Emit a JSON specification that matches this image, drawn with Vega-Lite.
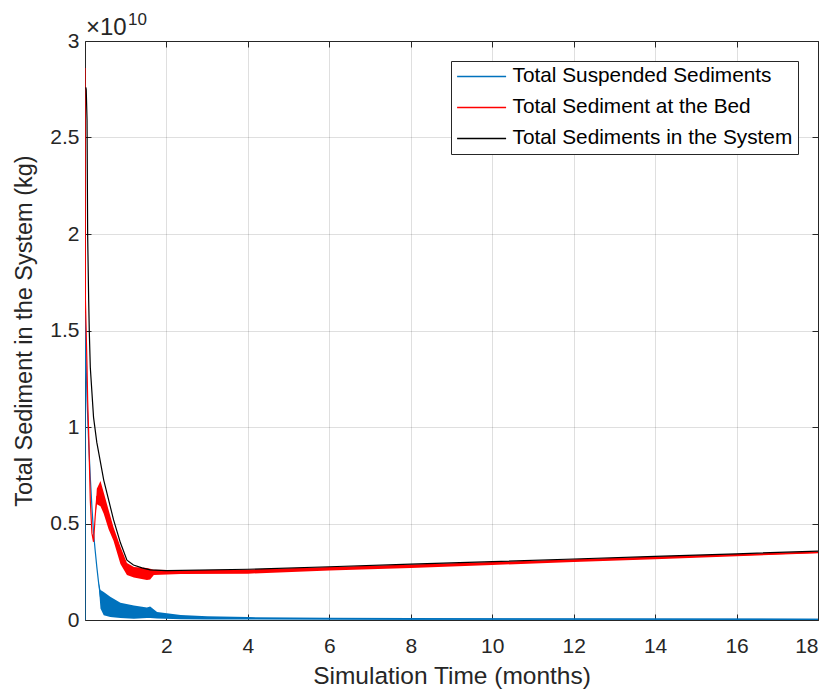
{
  "$schema": "https://vega.github.io/schema/vega-lite/v6.json",
  "width": 733,
  "height": 579,
  "autosize": {"type": "none"},
  "padding": {"left": 85, "top": 41, "right": 13, "bottom": 70},
  "config": {
    "font": "Liberation Sans",
    "view": {"stroke": "#262626", "strokeWidth": 1},
    "axis": {
      "domainColor": "#262626",
      "tickColor": "#262626",
      "labelColor": "#262626",
      "titleColor": "#262626",
      "gridColor": "#262626",
      "gridOpacity": 0.15,
      "labelFont": "Liberation Sans",
      "titleFont": "Liberation Sans",
      "titleFontWeight": "normal"
    },
    "legend": {
      "title": null,
      "orient": "top-right",
      "offset": 20,
      "strokeColor": "#262626",
      "fillColor": "white",
      "padding": 5,
      "labelFontSize": 20.8,
      "labelFont": "Liberation Sans",
      "labelColor": "#000000",
      "labelLimit": 400,
      "symbolType": "M-4,0H4",
      "symbolStrokeWidth": 1.5,
      "symbolSize": 150,
      "symbolOffset": 15.2,
      "labelOffset": 20.5,
      "rowPadding": 9
    }
  },
  "datasets": {
    "sediment": [
      {"series": "Total Suspended Sediments", "t": 0, "v": 0},
      {"series": "Total Suspended Sediments", "t": 0.005, "v": 1.59e10},
      {"series": "Total Suspended Sediments", "t": 0.03, "v": 1.31e10},
      {"series": "Total Suspended Sediments", "t": 0.05, "v": 1.14e10},
      {"series": "Total Suspended Sediments", "t": 0.09, "v": 0.92e10},
      {"series": "Total Suspended Sediments", "t": 0.13, "v": 0.74e10},
      {"series": "Total Suspended Sediments", "t": 0.17, "v": 0.585e10},
      {"series": "Total Suspended Sediments", "t": 0.21, "v": 0.45e10},
      {"series": "Total Suspended Sediments", "t": 0.25, "v": 0.36e10},
      {"series": "Total Suspended Sediments", "t": 0.29, "v": 0.275e10},
      {"series": "Total Suspended Sediments", "t": 0.33, "v": 0.2e10, "lo": 0.2e10, "hi": 0.2e10},
      {"series": "Total Suspended Sediments", "t": 0.38, "v": 0.12e10, "lo": 0.06e10, "hi": 0.155e10},
      {"series": "Total Suspended Sediments", "t": 0.46, "v": 0.09e10, "lo": 0.025e10, "hi": 0.145e10},
      {"series": "Total Suspended Sediments", "t": 0.62, "v": 0.07e10, "lo": 0.015e10, "hi": 0.12e10},
      {"series": "Total Suspended Sediments", "t": 0.87, "v": 0.05e10, "lo": 0.01e10, "hi": 0.09e10},
      {"series": "Total Suspended Sediments", "t": 1.2, "v": 0.04e10, "lo": 0.007e10, "hi": 0.075e10},
      {"series": "Total Suspended Sediments", "t": 1.52, "v": 0.038e10, "lo": 0.01e10, "hi": 0.065e10},
      {"series": "Total Suspended Sediments", "t": 1.6, "v": 0.042e10, "lo": 0.01e10, "hi": 0.07e10},
      {"series": "Total Suspended Sediments", "t": 1.77, "v": 0.025e10, "lo": 0.008e10, "hi": 0.042e10},
      {"series": "Total Suspended Sediments", "t": 2.35, "v": 0.015e10, "lo": 0.004e10, "hi": 0.026e10},
      {"series": "Total Suspended Sediments", "t": 3, "v": 0.011e10, "lo": 0.003e10, "hi": 0.019e10},
      {"series": "Total Suspended Sediments", "t": 4, "v": 0.008e10, "lo": 0.002e10, "hi": 0.015e10},
      {"series": "Total Suspended Sediments", "t": 6, "v": 0.006e10, "lo": 0.002e10, "hi": 0.012e10},
      {"series": "Total Suspended Sediments", "t": 8, "v": 0.005e10, "lo": 0.001e10, "hi": 0.01e10},
      {"series": "Total Suspended Sediments", "t": 12, "v": 0.004e10, "lo": 0.001e10, "hi": 0.009e10},
      {"series": "Total Suspended Sediments", "t": 18, "v": 0.003e10, "lo": 0.001e10, "hi": 0.007e10},

      {"series": "Total Sediment at the Bed", "t": 0, "v": 2.86e10},
      {"series": "Total Sediment at the Bed", "t": 0.01, "v": 1.66e10},
      {"series": "Total Sediment at the Bed", "t": 0.05, "v": 1.31e10},
      {"series": "Total Sediment at the Bed", "t": 0.065, "v": 1.14e10},
      {"series": "Total Sediment at the Bed", "t": 0.09, "v": 0.97e10},
      {"series": "Total Sediment at the Bed", "t": 0.13, "v": 0.62e10},
      {"series": "Total Sediment at the Bed", "t": 0.17, "v": 0.45e10},
      {"series": "Total Sediment at the Bed", "t": 0.21, "v": 0.405e10},
      {"series": "Total Sediment at the Bed", "t": 0.25, "v": 0.535e10, "lo": 0.535e10, "hi": 0.535e10},
      {"series": "Total Sediment at the Bed", "t": 0.29, "v": 0.64e10, "lo": 0.6e10, "hi": 0.68e10},
      {"series": "Total Sediment at the Bed", "t": 0.38, "v": 0.655e10, "lo": 0.59e10, "hi": 0.72e10},
      {"series": "Total Sediment at the Bed", "t": 0.46, "v": 0.605e10, "lo": 0.55e10, "hi": 0.66e10},
      {"series": "Total Sediment at the Bed", "t": 0.58, "v": 0.52e10, "lo": 0.47e10, "hi": 0.57e10},
      {"series": "Total Sediment at the Bed", "t": 0.7, "v": 0.445e10, "lo": 0.41e10, "hi": 0.48e10},
      {"series": "Total Sediment at the Bed", "t": 0.87, "v": 0.335e10, "lo": 0.29e10, "hi": 0.38e10},
      {"series": "Total Sediment at the Bed", "t": 1.03, "v": 0.264e10, "lo": 0.233e10, "hi": 0.295e10},
      {"series": "Total Sediment at the Bed", "t": 1.2, "v": 0.248e10, "lo": 0.22e10, "hi": 0.275e10},
      {"series": "Total Sediment at the Bed", "t": 1.52, "v": 0.238e10, "lo": 0.207e10, "hi": 0.27e10},
      {"series": "Total Sediment at the Bed", "t": 1.6, "v": 0.237e10, "lo": 0.21e10, "hi": 0.265e10},
      {"series": "Total Sediment at the Bed", "t": 1.69, "v": 0.246e10, "lo": 0.233e10, "hi": 0.26e10},
      {"series": "Total Sediment at the Bed", "t": 2.35, "v": 0.248e10, "lo": 0.238e10, "hi": 0.258e10},
      {"series": "Total Sediment at the Bed", "t": 4, "v": 0.252e10, "lo": 0.24e10, "hi": 0.262e10},
      {"series": "Total Sediment at the Bed", "t": 6, "v": 0.267e10, "lo": 0.256e10, "hi": 0.275e10},
      {"series": "Total Sediment at the Bed", "t": 8, "v": 0.28e10, "lo": 0.27e10, "hi": 0.288e10},
      {"series": "Total Sediment at the Bed", "t": 10, "v": 0.294e10, "lo": 0.285e10, "hi": 0.301e10},
      {"series": "Total Sediment at the Bed", "t": 12, "v": 0.308e10, "lo": 0.3e10, "hi": 0.315e10},
      {"series": "Total Sediment at the Bed", "t": 14, "v": 0.322e10, "lo": 0.315e10, "hi": 0.329e10},
      {"series": "Total Sediment at the Bed", "t": 16, "v": 0.337e10, "lo": 0.33e10, "hi": 0.342e10},
      {"series": "Total Sediment at the Bed", "t": 18, "v": 0.35e10, "lo": 0.346e10, "hi": 0.355e10},

      {"series": "Total Sediments in the System", "t": 0.02, "v": 2.76e10},
      {"series": "Total Sediments in the System", "t": 0.03, "v": 2.75e10},
      {"series": "Total Sediments in the System", "t": 0.05, "v": 2.59e10},
      {"series": "Total Sediments in the System", "t": 0.065, "v": 2.0e10},
      {"series": "Total Sediments in the System", "t": 0.09, "v": 1.66e10},
      {"series": "Total Sediments in the System", "t": 0.105, "v": 1.5e10},
      {"series": "Total Sediments in the System", "t": 0.13, "v": 1.31e10},
      {"series": "Total Sediments in the System", "t": 0.21, "v": 1.05e10},
      {"series": "Total Sediments in the System", "t": 0.29, "v": 0.92e10},
      {"series": "Total Sediments in the System", "t": 0.46, "v": 0.725e10},
      {"series": "Total Sediments in the System", "t": 0.7, "v": 0.52e10},
      {"series": "Total Sediments in the System", "t": 0.87, "v": 0.4e10},
      {"series": "Total Sediments in the System", "t": 1.03, "v": 0.31e10},
      {"series": "Total Sediments in the System", "t": 1.19, "v": 0.285e10},
      {"series": "Total Sediments in the System", "t": 1.4, "v": 0.27e10},
      {"series": "Total Sediments in the System", "t": 1.6, "v": 0.26e10},
      {"series": "Total Sediments in the System", "t": 2, "v": 0.256e10},
      {"series": "Total Sediments in the System", "t": 4, "v": 0.263e10},
      {"series": "Total Sediments in the System", "t": 6, "v": 0.276e10},
      {"series": "Total Sediments in the System", "t": 8, "v": 0.289e10},
      {"series": "Total Sediments in the System", "t": 10, "v": 0.302e10},
      {"series": "Total Sediments in the System", "t": 12, "v": 0.316e10},
      {"series": "Total Sediments in the System", "t": 14, "v": 0.33e10},
      {"series": "Total Sediments in the System", "t": 16, "v": 0.343e10},
      {"series": "Total Sediments in the System", "t": 18, "v": 0.357e10}
    ]
  },
  "layer": [
    {
      "data": {"name": "sediment"},
      "transform": [{"filter": "isValid(datum.lo)"}],
      "mark": {"type": "area", "opacity": 1, "clip": true},
      "encoding": {
        "x": {
          "field": "t", "type": "quantitative",
          "scale": {"domain": [0, 18], "nice": false, "zero": false},
          "axis": {"orient": "top", "labels": false, "title": null, "grid": false, "domain": false, "values": [2, 4, 6, 8, 10, 12, 14, 16, 18], "tickSize": -6}
        },
        "y": {
          "field": "lo", "type": "quantitative",
          "scale": {"domain": [0, 30000000000], "nice": false},
          "axis": {"orient": "right", "labels": false, "title": null, "grid": false, "domain": false, "values": [0, 5000000000, 10000000000, 15000000000, 20000000000, 25000000000, 30000000000], "tickSize": -6}
        },
        "y2": {"field": "hi"},
        "color": {
          "field": "series", "type": "nominal",
          "scale": {"domain": ["Total Suspended Sediments", "Total Sediment at the Bed", "Total Sediments in the System"], "range": ["#0072BD", "#FF0000", "#000000"]}
        }
      }
    },
    {
      "data": {"name": "sediment"},
      "mark": {"type": "line", "strokeWidth": 1.2, "clip": true},
      "encoding": {
        "x": {
          "field": "t", "type": "quantitative",
          "axis": {"orient": "bottom", "title": "Simulation Time (months)", "titleFontSize": 24.5, "titlePadding": 8, "labelFontSize": 21, "labelPadding": 21, "values": [2, 4, 6, 8, 10, 12, 14, 16, 18], "tickSize": -6, "grid": true, "domain": false}
        },
        "y": {
          "field": "v", "type": "quantitative",
          "axis": {"orient": "left", "title": "Total Sediment in the System (kg)", "titleFontSize": 23.5, "titlePadding": 13, "labelFontSize": 21, "labelPadding": 12, "values": [0, 5000000000, 10000000000, 15000000000, 20000000000, 25000000000, 30000000000], "labelExpr": "datum.value / 1e10", "tickSize": -6, "grid": true, "domain": false}
        },
        "color": {
          "field": "series", "type": "nominal",
          "scale": {"domain": ["Total Suspended Sediments", "Total Sediment at the Bed", "Total Sediments in the System"], "range": ["#0072BD", "#FF0000", "#000000"]}
        }
      }
    },
    {
      "data": {"values": [{"label": "×10"}]},
      "mark": {"type": "text", "align": "left", "baseline": "alphabetic", "fontSize": 24, "color": "#262626", "dx": 1, "dy": -6},
      "encoding": {
        "text": {"field": "label"},
        "x": {"datum": 0, "type": "quantitative", "axis": null},
        "y": {"datum": 30000000000, "type": "quantitative", "axis": null}
      }
    },
    {
      "data": {"values": [{"label": "10"}]},
      "mark": {"type": "text", "align": "left", "baseline": "alphabetic", "fontSize": 17, "color": "#262626", "dx": 43, "dy": -16},
      "encoding": {
        "text": {"field": "label"},
        "x": {"datum": 0, "type": "quantitative", "axis": null},
        "y": {"datum": 30000000000, "type": "quantitative", "axis": null}
      }
    }
  ],
  "resolve": {"axis": {"x": "independent", "y": "independent"}}
}
